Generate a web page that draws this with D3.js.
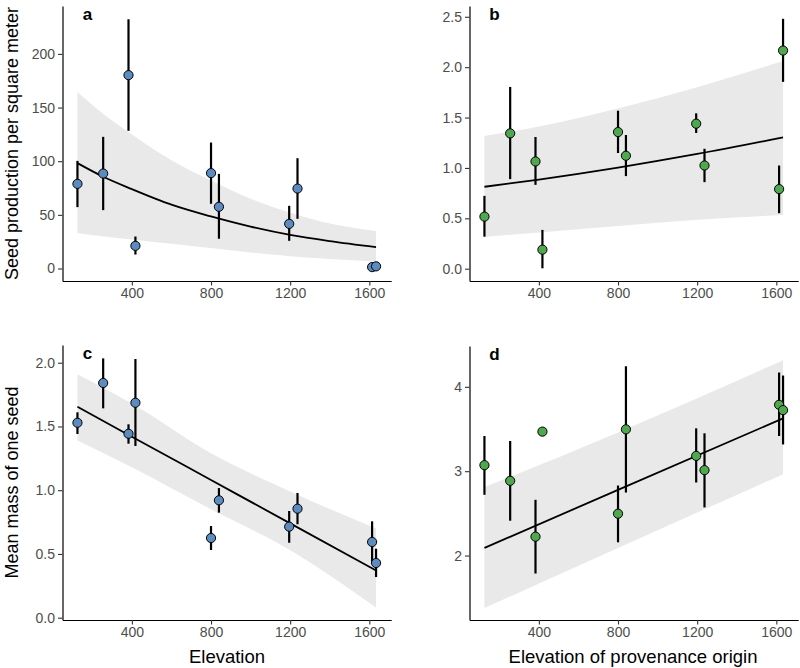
<!DOCTYPE html>
<html>
<head>
<meta charset="utf-8">
<script src="https://cdn.jsdelivr.net/npm/d3@7"></script>
<style>
  body { margin: 0; background: #fff; }
  text { font-family: "Liberation Sans", Arial, sans-serif; }
</style>
</head>
<body>
<svg width="800" height="668"></svg>
<script>
let width = 800;
let height = 668;

// elevations of the 10 sites (same in every panel)
const elevation = [125, 255, 383, 418, 800, 840, 1195, 1237, 1614, 1634];
const xTicks = [400, 800, 1200, 1600];

// a - seed production per square meter
const seedProd   = [78.9, 88.5, 180.2, 21.1, 88.9, 57.5, 41.6, 74.5, 1.3, 2.0];
const seedProdLo = [57.2, 54.4, 128.3, 13.0, 60.3, 27.7, 25.8, 46.3, 0.8, 1.5];
const seedProdHi = [100.3, 122.7, 232.3, 29.8, 117.4, 88.2, 58.4, 102.8, 1.8, 2.5];
const fitElevA = [125, 250, 400, 600, 800, 1000, 1200, 1400, 1634];
const fitA     = [98.2, 86, 74, 59.5, 48.5, 39, 31.3, 25.5, 19.9];
const fitAHi   = [164.5, 145, 125, 101, 82, 65, 52, 42, 35];
const fitALo   = [33, 30, 27, 23, 19, 15, 11.5, 8.8, 6.5];

// b - seed production, provenance
const seedProdB   = [0.517, 1.343, 1.064, 0.189, 1.356, 1.121, 1.439, 1.024, 0.79, 2.165];
const seedProdBLo = [0.318, 0.889, 0.832, 0.004, 1.148, 0.919, 1.347, 0.859, 0.551, 1.854];
const seedProdBHi = [0.723, 1.804, 1.307, 0.385, 1.568, 1.327, 1.542, 1.19, 1.024, 2.48];
const fitElevB = [125, 400, 800, 1200, 1634];
const fitB     = [0.813, 0.885, 1.004, 1.139, 1.303];
const fitBHi   = [1.317, 1.41, 1.59, 1.80, 2.06];
const fitBLo   = [0.315, 0.36, 0.425, 0.485, 0.534];

// c - mean mass of one seed
const seedMass   = [1.529, 1.841, 1.443, 1.686, 0.625, 0.921, 0.714, 0.855, 0.594, 0.429];
const seedMassLo = [1.441, 1.642, 1.365, 1.347, 0.531, 0.824, 0.588, 0.733, 0.431, 0.319];
const seedMassHi = [1.611, 2.034, 1.517, 2.029, 0.719, 1.017, 0.837, 0.978, 0.756, 0.541];
const fitElevC = [125, 400, 800, 1200, 1634];
const fitC     = [1.655, 1.42, 1.08, 0.74, 0.37];
const fitCHi   = [1.91, 1.68, 1.29, 0.99, 0.70];
const fitCLo   = [1.39, 1.18, 0.85, 0.53, 0.08];

// d - mean mass of one seed, provenance
const seedMassD   = [3.071, 2.886, 2.224, 3.469, 2.496, 3.496, 3.181, 3.012, 3.787, 3.724];
const seedMassDLo = [2.72, 2.413, 1.787, 3.469, 2.157, 2.747, 2.866, 2.571, 3.417, 3.317];
const seedMassDHi = [3.417, 3.358, 2.661, 3.469, 2.83, 4.244, 3.508, 3.449, 4.17, 4.134];
const fitElevD = [125, 800, 1634];
const fitD     = [2.091, 2.778, 3.626];
const fitDHi   = [2.81, 3.46, 4.315];
const fitDLo   = [1.378, 2.09, 2.965];

const blue = "#5b8bbf";
const green = "#4fa84f";

let svg = d3.select("svg");

function drawPanel(p) {
  let x = d3.scaleLinear().domain([49.5, 1710.5]).range([p.left, p.left + 328.7]);
  let y = d3.scaleLinear().domain(p.yDomain).range([p.bottom, p.top]);
  let g = svg.append("g");

  // confidence band
  let band = p.fitX.map((e, i) => ({e: e, lo: p.fitLo[i], hi: p.fitHi[i]}));
  g.append("path")
    .datum(band)
    .attr("fill", "#e9e9e9")
    .attr("d", d3.area().curve(d3.curveMonotoneX)
      .x(d => x(d.e)).y0(d => y(d.lo)).y1(d => y(d.hi)));

  // fitted line
  g.append("path")
    .datum(p.fitX.map((e, i) => [e, p.fit[i]]))
    .attr("fill", "none")
    .attr("stroke", "black")
    .attr("stroke-width", 1.8)
    .attr("d", d3.line().curve(d3.curveMonotoneX).x(d => x(d[0])).y(d => y(d[1])));

  let pts = elevation.map((e, i) => ({e: e, v: p.vals[i], lo: p.lo[i], hi: p.hi[i]}));

  // error bars
  g.selectAll(".err")
    .data(pts)
    .enter()
    .append("line")
    .attr("x1", d => x(d.e)).attr("x2", d => x(d.e))
    .attr("y1", d => y(d.lo)).attr("y2", d => y(d.hi))
    .attr("stroke", "black")
    .attr("stroke-width", 2.2);

  g.selectAll("circle")
    .data(pts)
    .enter()
    .append("circle")
    .attr("cx", d => x(d.e))
    .attr("cy", d => y(d.v))
    .attr("r", 4.6)
    .attr("fill", p.color)
    .attr("stroke", "black")
    .attr("stroke-width", 1);

  // axes
  let xAxis = g.append("g")
    .attr("transform", "translate(0," + p.bottom + ")")
    .call(d3.axisBottom(x).tickValues(xTicks).tickFormat(d3.format("d"))
      .tickSize(4.5).tickPadding(3).tickSizeOuter(0));
  let yAxis = g.append("g")
    .attr("transform", "translate(" + p.left + ",0)")
    .call(d3.axisLeft(y).tickValues(p.yTicks).tickFormat(d3.format(p.fmt))
      .tickSize(4.5).tickPadding(3).tickSizeOuter(0));
  [xAxis, yAxis].forEach(a => {
    a.select(".domain").attr("stroke", "black").attr("stroke-width", 1.2);
    a.selectAll(".tick line").attr("stroke", "#333").attr("stroke-width", 1.1);
    a.selectAll(".tick text").attr("fill", "#4d4d4d").style("font-size", "14px")
      .style("font-family", "'Liberation Sans', Arial, sans-serif");
  });

  // panel letter
  g.append("text")
    .attr("x", p.left + 25)
    .attr("y", p.top + 14)
    .attr("text-anchor", "middle")
    .style("font-size", "17px")
    .style("font-weight", "bold")
    .text(p.letter);
}

drawPanel({letter: "a", left: 62.5, top: 6, bottom: 281, color: blue,
  yDomain: [-11.65, 244.65], yTicks: [0, 50, 100, 150, 200], fmt: "d",
  vals: seedProd, lo: seedProdLo, hi: seedProdHi,
  fitX: fitElevA, fit: fitA, fitLo: fitALo, fitHi: fitAHi});

drawPanel({letter: "b", left: 469.5, top: 6, bottom: 281, color: green,
  yDomain: [-0.122, 2.607], yTicks: [0, 0.5, 1, 1.5, 2, 2.5], fmt: ".1f",
  vals: seedProdB, lo: seedProdBLo, hi: seedProdBHi,
  fitX: fitElevB, fit: fitB, fitLo: fitBLo, fitHi: fitBHi});

drawPanel({letter: "c", left: 62.5, top: 345, bottom: 620, color: blue,
  yDomain: [-0.018, 2.139], yTicks: [0, 0.5, 1, 1.5, 2], fmt: ".1f",
  vals: seedMass, lo: seedMassLo, hi: seedMassHi,
  fitX: fitElevC, fit: fitC, fitLo: fitCLo, fitHi: fitCHi});

drawPanel({letter: "d", left: 469.5, top: 346, bottom: 620, color: green,
  yDomain: [1.236, 4.484], yTicks: [2, 3, 4], fmt: "d",
  vals: seedMassD, lo: seedMassDLo, hi: seedMassDHi,
  fitX: fitElevD, fit: fitD, fitLo: fitDLo, fitHi: fitDHi});

// axis titles
svg.append("text")
  .attr("transform", "translate(18,143.5) rotate(-90)")
  .attr("text-anchor", "middle")
  .style("font-size", "18px")
  .text("Seed production per square meter");
svg.append("text")
  .attr("transform", "translate(18,482.5) rotate(-90)")
  .attr("text-anchor", "middle")
  .style("font-size", "18px")
  .text("Mean mass of one seed");
svg.append("text")
  .attr("x", 227).attr("y", 663)
  .attr("text-anchor", "middle")
  .style("font-size", "18.5px")
  .text("Elevation");
svg.append("text")
  .attr("x", 633).attr("y", 663)
  .attr("text-anchor", "middle")
  .style("font-size", "18.5px")
  .text("Elevation of provenance origin");
</script>
</body>
</html>
